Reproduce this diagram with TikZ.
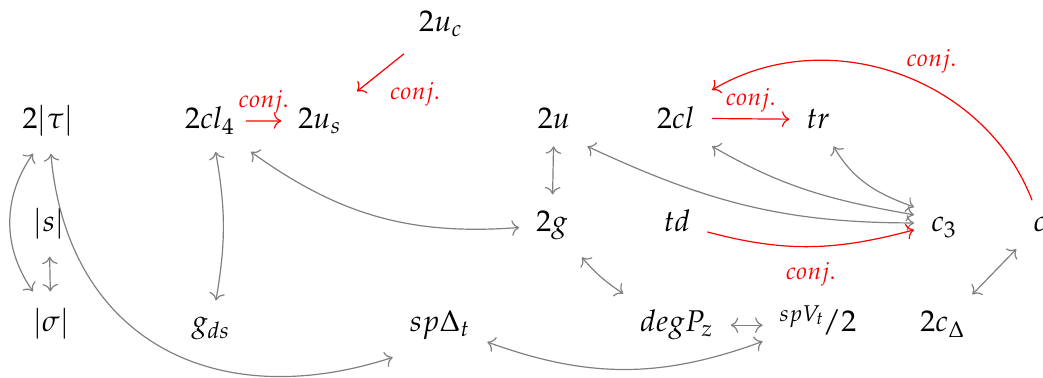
\documentclass[tikz,border=0pt]{standalone}
\usepackage{mathpazo}
\usepackage{tikz}
\usepackage{xcolor}
\usetikzlibrary{arrows.meta}
\definecolor{arrowgray}{RGB}{128,128,128}
\definecolor{conjred}{RGB}{255,0,0}

\tikzset{
  >={Computer Modern Rightarrow},
  obj/.style={anchor=base, inner sep=5.5pt},
  link/.style={<->, arrowgray},
  conjarrow/.style={->, conjred},
  conjlabel/.style={text=conjred, font=\footnotesize, inner sep=2pt}
}

\begin{document}
\begin{tikzpicture}

% Frame
\useasboundingbox (0,0) rectangle (12.227,4.431);

% Top row
\node[obj] (uc) at (5.170,4.056) {$2u_c$};

% Second row
\node[obj] (tau) at (0.563,2.919) {$2|\tau|$};
\node[obj] (cl4) at (2.462,2.919) {$2cl_4$};
\node[obj] (us) at (3.751,2.919) {$2u_s$};
\node[obj] (u) at (6.495,2.919) {$2u$};
\node[obj] (cl) at (7.925,2.919) {$2cl$};
\node[obj] (tr) at (9.590,2.919) {$tr$};

% Third row
\node[obj] (s) at (0.574,1.712) {$|s|$};
\node[obj] (g) at (6.471,1.712) {$2g$};
\node[obj] (td) at (7.937,1.712) {$td$};
\node[obj] (c3) at (11.067,1.712) {$c_3$};
\node[obj] (cright) at (12.190,1.712) {$c$};

% Bottom row
\node[obj] (sigma) at (0.598,0.539) {$|\sigma|$};
\node[obj] (gds) at (2.474,0.539) {$g_{ds}$};
\node[obj] (spD) at (5.158,0.539) {$sp\Delta_t$};
\node[obj] (degP) at (7.937,0.539) {$degP_z$};
\node[obj] (spV) at (9.590,0.539) {$^{spV_t}\mkern-2mu/2$};
\node[obj] (cD) at (11.055,0.539) {$2c_\Delta$};

% Left part
\draw[link] ([xshift=-5pt]tau.south) to[bend right=35] ([xshift=-6pt]sigma.north);
\draw[link] (s) -- (sigma);
\draw[link] (tau) to[out=-85, in=-162, looseness=1.2] (spD.south west);
\draw[link] (cl4) to[bend left=10] (gds);
\draw[link] (cl4) to[bend right=20] (g);
\draw[conjarrow] ([xshift=-2pt]cl4.east) -- node[conjlabel, above] {$conj.$} (us);
\draw[conjarrow] (uc) -- node[conjlabel, below right=1pt] {$conj.$} (us);

% Middle part
\draw[link] (u) -- (g);
\draw[link] (g) to[bend right=8] (degP);
\draw[link] (degP.east) -- (degP.east -| spV.west);
\draw[link] (spD) to[bend right=20] (spV);

% Everything running into c_3
\draw[link] (u.south east) to[out=-25, in=180] ([yshift=3pt]c3.base west);
\draw[link] (cl.south east) to[out=-30, in=170] ([yshift=5.7pt]c3.base west);
\draw[link] (tr) to[out=-60, in=160] ([yshift=8.3pt]c3.base west);
\draw[conjarrow] (td.base east) to[out=-15, in=195] node[conjlabel, below=3pt] {$conj.$} ([yshift=0.7pt]c3.base west);

% Right part
\draw[conjarrow] (cl) -- node[conjlabel, above] {$conj.$} (tr);
\draw[conjarrow] (cright) to[bend right=50] node[conjlabel, pos=0.5, above right=1pt, yshift=-3.3pt] {$conj.$} (cl.north east);
\draw[link] (cD) -- (cright);

\end{tikzpicture}
\end{document}
